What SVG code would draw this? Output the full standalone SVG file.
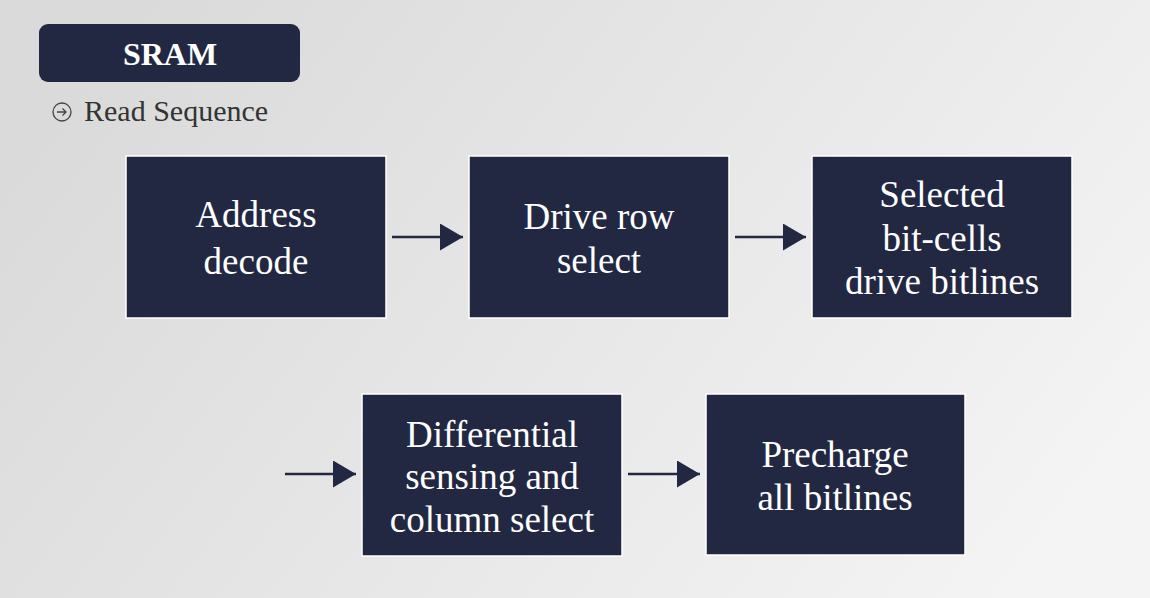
<svg xmlns="http://www.w3.org/2000/svg" width="1150" height="598" viewBox="0 0 1150 598">
<defs>
<linearGradient id="bg" x1="0" y1="0.3" x2="1" y2="0.7">
<stop offset="0" stop-color="#dadada"/>
<stop offset="1" stop-color="#f4f4f4"/>
</linearGradient>
<marker id="ah" markerWidth="24" markerHeight="27" refX="23" refY="13.5" orient="auto" markerUnits="userSpaceOnUse">
<path d="M0,0 L23,13.5 L0,27 Z" fill="#222842"/>
</marker>
<style>
.box{fill:#222842;stroke:#ffffff;stroke-width:1.5}
.t{font-family:'Liberation Serif',serif;font-size:37px;fill:#ffffff;text-anchor:middle}
.conn{stroke:#222842;stroke-width:2.5;fill:none}
</style>
</defs>
<rect width="1150" height="598" fill="url(#bg)"/>
<g id="header">
<rect x="39" y="24" width="261" height="58" rx="9" fill="#222842"/>
<text x="170" y="65" font-family="'Liberation Serif', serif" font-weight="bold" font-size="32" fill="#ffffff" text-anchor="middle">SRAM</text>
</g>
<g id="subtitle">
<circle cx="62" cy="112" r="9" fill="none" stroke="#444" stroke-width="1.3"/>
<path d="M57,112 H66 M62.5,108.5 L66,112 L62.5,115.5" fill="none" stroke="#444" stroke-width="1.3"/>
<text x="84" y="121" font-family="'Liberation Serif', serif" font-size="30" fill="#333333">Read Sequence</text>
</g>
<g id="n1">
<rect class="box" x="126" y="156" width="260" height="162"/>
<text class="t" x="256" y="227">Address</text>
<text class="t" x="256" y="274">decode</text>
</g>
<g id="n2">
<rect class="box" x="469" y="156" width="260" height="162"/>
<text class="t" x="599" y="229">Drive row</text>
<text class="t" x="599" y="273">select</text>
</g>
<g id="n3">
<rect class="box" x="812" y="156" width="260" height="162"/>
<text class="t" x="942" y="207">Selected</text>
<text class="t" x="942" y="251">bit-cells</text>
<text class="t" x="942" y="294">drive bitlines</text>
</g>
<g id="n4">
<rect class="box" x="362" y="394" width="260" height="162"/>
<text class="t" x="492" y="447">Differential</text>
<text class="t" x="492" y="489">sensing and</text>
<text class="t" x="492" y="532">column select</text>
</g>
<g id="n5">
<rect class="box" x="706" y="394" width="259" height="161"/>
<text class="t" x="835" y="467">Precharge</text>
<text class="t" x="835" y="510">all bitlines</text>
</g>
<g id="connectors">
<line class="conn" x1="392" y1="237" x2="463" y2="237" marker-end="url(#ah)"/>
<line class="conn" x1="735" y1="237" x2="806" y2="237" marker-end="url(#ah)"/>
<line class="conn" x1="285" y1="474" x2="356" y2="474" marker-end="url(#ah)"/>
<line class="conn" x1="628" y1="474" x2="700" y2="474" marker-end="url(#ah)"/>
</g>
</svg>
